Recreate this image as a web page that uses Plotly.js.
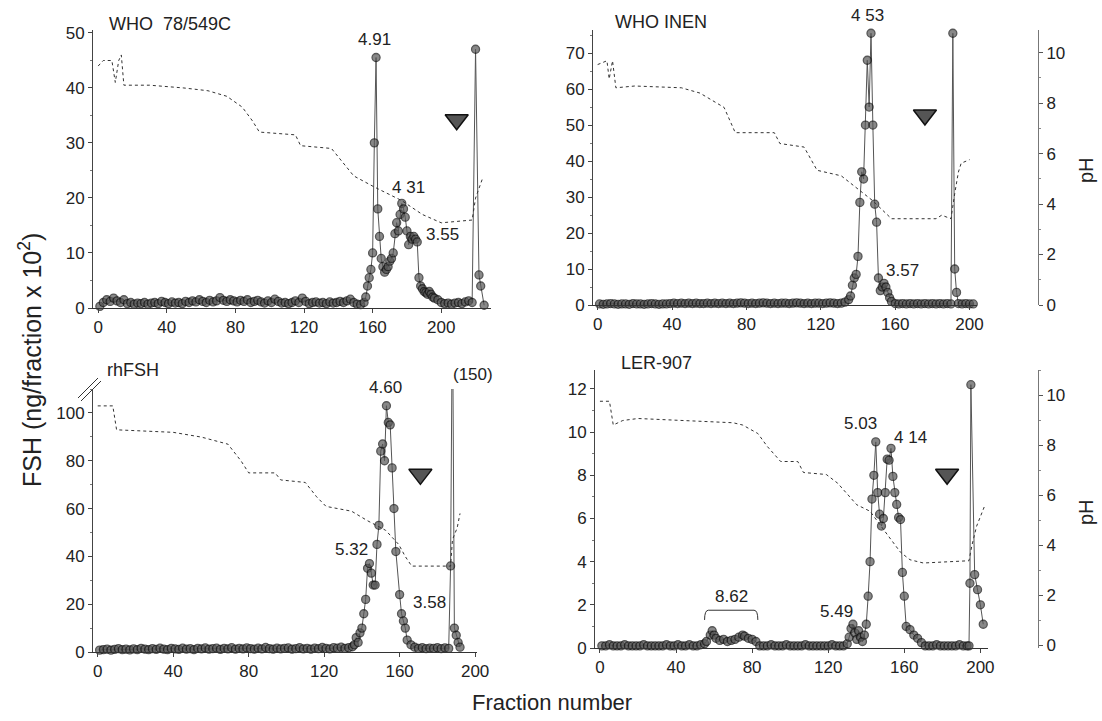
<!DOCTYPE html>
<html><head><meta charset="utf-8">
<script src="https://cdn.plot.ly/plotly-3.0.1.min.js"></script>
<style>html,body{margin:0;padding:0;background:#fff}#chart{width:1102px;height:721px}</style>
</head><body><div id="chart"></div><script>
// ---------- DATA ----------
// Panel 1: WHO 78/549C
const fr1 = [1,3,5,7,9,11,13,15,17,19,21,23,25,27,29,31,33,35,37,39,41,43,45,47,49,51,53,55,57,59,61,63,65,67,69,71,73,75,77,79,81,83,85,87,89,91,93,95,97,99,101,103,105,107,109,111,113,115,117,119,121,123,125,127,129,131,133,135,137,139,141,143,145,147,149,151,153,155,156,157,158,159,160,161,162,163,164,165,166,167,168,169,170,171,172,173,174,175,176,177,178,179,180,181,182,183,184,185,186,187,188,189,190,191,192,193,194,195,196,198,200,202,204,206,208,210,212,214,216,218,220,222,223,225];
const fsh1 = [0.3,1.0,1.5,1.2,1.8,1.3,1.0,1.5,0.8,1.0,0.7,0.9,0.8,1.0,0.7,0.9,1.0,0.8,1.2,1.0,0.8,1.1,0.9,1.0,0.8,1.2,1.0,1.3,1.1,1.5,1.2,1.0,1.4,1.1,1.3,1.9,1.4,1.2,1.5,1.3,1.1,1.4,1.2,1.5,1.0,1.2,1.4,1.1,0.9,1.3,1.0,1.6,1.2,0.9,1.0,0.8,1.0,1.3,1.0,1.8,1.2,0.8,1.0,1.1,0.9,1.0,0.8,1.1,0.9,1.0,1.2,1.0,1.3,1.6,1.0,0.7,0.6,1.0,2.0,4.0,5.5,7.0,10.0,30.0,45.5,18.0,13.0,9.0,7.5,6.5,7.0,7.5,8.5,9.0,10.0,13.5,15.5,14.0,17.0,19.0,18.0,16.5,14.0,11.5,13.0,12.5,13.0,12.5,12.0,5.5,4.0,3.5,3.0,2.8,2.5,3.0,2.5,2.0,1.8,1.5,1.0,0.8,0.9,0.7,0.9,1.0,0.8,1.1,1.3,1.0,47.0,6.0,4.0,0.5];
const phFr1 = [0,3,8,10,12,13.5,15,30,50,64,75,84,90,94,115,118,136,149,161,177,189,200,218,220,224];
const ph1 = [9.6,9.82,9.82,8.95,9.82,10.04,8.84,8.84,8.73,8.62,8.4,7.97,7.42,6.98,6.87,6.44,6.33,5.24,4.8,4.26,3.71,3.38,3.49,4.36,5.13];

// Panel 2: WHO INEN
const fr2 = [1,3,5,7,9,11,13,15,17,19,21,23,25,27,29,31,33,35,37,39,41,43,45,47,49,51,53,55,57,59,61,63,65,67,69,71,73,75,77,79,81,83,85,87,89,91,93,95,97,99,101,103,105,107,109,111,113,115,117,119,121,123,125,127,129,131,133,135,136,137,138,139,140,141,142,143,144,145,146,147,148,149,150,151,152,153,154,155,156,157,158,160,162,164,166,168,170,172,174,176,178,180,182,184,186,188,190,191,192,193,194,196,198,200,202];
const fsh2 = [0.3,0.2,0.3,0.4,0.3,0.2,0.3,0.3,0.2,0.4,0.3,0.3,0.2,0.3,0.4,0.3,0.2,0.3,0.3,0.4,0.5,0.4,0.5,0.4,0.5,0.4,0.5,0.4,0.4,0.5,0.4,0.5,0.4,0.5,0.4,0.5,0.4,0.5,0.6,0.5,0.4,0.5,0.4,0.5,0.6,0.5,0.4,0.5,0.4,0.5,0.5,0.4,0.5,0.6,0.5,0.4,0.5,0.4,0.5,0.5,0.4,0.5,0.6,0.5,0.4,0.5,0.8,1.5,2.5,5.5,7.5,8.5,13.5,28.5,37.0,35.0,50.0,68.0,55.0,75.5,50.0,28.0,23.0,7.5,4.0,5.0,6.0,5.0,3.5,2.0,1.0,0.4,0.3,0.4,0.3,0.4,0.3,0.4,0.3,0.4,0.3,0.4,0.3,0.4,0.3,0.4,0.3,75.5,10.0,3.5,0.4,0.3,0.4,0.3,0.3];
const phFr2 = [0,5,6.2,8,9.8,20,45,55,68,74,95,98,111,118,131,138,148,158,182,185,190,192,194,195.5,200];
const ph2 = [9.53,9.68,8.96,9.68,8.61,8.68,8.61,8.4,7.83,6.83,6.83,6.4,6.26,5.34,5.12,4.7,4.13,3.42,3.42,3.56,3.42,4.41,5.27,5.62,5.76];

// Panel 3: rhFSH
const fr3 = [1,3,5,7,9,11,13,15,17,19,21,23,25,27,29,31,33,35,37,39,41,43,45,47,49,51,53,55,57,59,61,63,65,67,69,71,73,75,77,79,81,83,85,87,89,91,93,95,97,99,101,103,105,107,109,111,113,115,117,119,121,123,125,127,129,131,133,135,136,137,138,139,140,141,142,143,144,145,146,147,148,149,150,151,152,153,154,155,156,157,158,160,161,162,163,164,166,168,170,172,174,176,178,180,182,184,186,187,188,189,190,191,192];
const fsh3 = [0.8,1.0,1.2,0.8,1.1,1.4,1.0,1.2,0.9,1.3,1.0,1.5,1.2,1.0,1.4,1.1,1.6,1.2,1.0,1.5,1.3,1.1,1.6,1.2,1.4,1.0,1.5,1.3,1.7,1.2,1.4,1.6,1.1,1.5,1.3,1.8,1.2,1.5,1.3,1.7,1.4,1.2,1.6,1.3,1.9,1.4,1.2,1.6,1.3,1.5,1.7,1.2,1.4,1.8,1.3,1.5,1.2,1.6,1.4,1.9,1.5,1.3,1.8,1.6,2.0,1.5,1.8,2.2,3.0,6.0,4.0,8.0,10.0,16.0,22.0,35.0,37.0,33.0,28.0,28.0,45.0,53.0,84.0,87.0,80.0,103.0,96.0,95.0,77.0,60.0,42.0,24.0,16.0,13.0,10.0,5.0,3.0,2.0,1.5,1.8,1.4,1.6,1.5,1.8,1.4,1.7,1.5,36.0,150.0,10.0,7.0,4.0,2.0];
const phFr3 = [0,8,10,40,55,69,76,80,94,97,110,116,121,134.5,143,152.6,159.5,163,166.4,187,188,190.5,192];
const ph3 = [9.77,9.77,8.82,8.72,8.53,8.25,7.58,7.11,7.11,6.83,6.73,6.16,5.78,5.59,5.21,4.83,4.27,3.79,3.41,3.41,4.46,4.93,5.5];

// Panel 4: LER-907
const fr4 = [1,3,5,7,9,11,13,15,17,19,21,23,25,27,29,31,33,35,37,39,41,43,45,47,49,51,53,55,56,58,59,60,61,63,65,67,69,71,73,75,76,78,80,82,84,86,88,90,92,94,96,98,100,102,104,106,108,110,112,114,116,118,120,122,124,126,128,130,131,132,133,134,135,136,137,138,139,140,141,142,143,144,145,146,147,148,149,150,151,152,153,154,155,156,157,158,159,160,161,163,165,167,169,171,173,175,177,179,181,183,185,187,189,191,193,194,194.5,195,197,198.5,200,201.5];
const fsh4 = [0.1,0.1,0.15,0.1,0.1,0.1,0.15,0.1,0.1,0.1,0.1,0.15,0.1,0.1,0.1,0.1,0.1,0.15,0.1,0.1,0.15,0.1,0.1,0.15,0.1,0.1,0.15,0.2,0.3,0.6,0.8,0.6,0.45,0.35,0.4,0.3,0.35,0.4,0.5,0.6,0.55,0.45,0.4,0.3,0.1,0.1,0.1,0.15,0.1,0.1,0.1,0.15,0.1,0.1,0.1,0.1,0.15,0.1,0.1,0.1,0.1,0.1,0.1,0.15,0.1,0.1,0.1,0.2,0.5,0.9,1.1,0.7,0.4,0.8,0.5,0.3,0.6,1.1,2.4,4.0,6.9,8.0,9.55,7.2,6.2,5.65,6.0,7.2,8.75,8.7,9.25,7.95,7.2,6.65,6.05,5.95,3.5,2.4,1.0,0.85,0.6,0.45,0.25,0.1,0.1,0.1,0.15,0.1,0.1,0.1,0.1,0.1,0.15,0.1,0.1,0.1,3.0,12.2,3.4,2.7,2.0,1.1];
const phFr4 = [0,5,7,12,20,40,70,75,83,88,95,104,107,119,125,135,142,152,158,163,170,194,195.5,198,202];
const ph4 = [9.75,9.75,8.8,8.98,9.06,8.98,8.89,8.8,8.46,7.94,7.34,7.34,6.9,6.82,6.47,5.61,5.35,4.32,3.71,3.41,3.28,3.37,3.97,4.75,5.52];

// Application-point triangles (fraction, FSH) per panel
const triFr = [209, 176, 171, 182.5];
const triFSH = [34.2, 52.8, 74.3, 8.05];

const panelNames = ['WHO  78/549C', 'WHO INEN', 'rhFSH', 'LER-907'];
const xTicks = [0, 40, 80, 120, 160, 200];
const phTicks = [0, 2, 4, 6, 8, 10];

// ---------- LAYOUT GEOMETRY ----------
const W = 1102, H = 721;
const FONT = 'Liberation Sans, Arial, Helvetica, sans-serif';
const px = (a, b) => [a / W, b / W];
const py = (top, bot) => [1 - bot / H, 1 - top / H];

const panels = [
  {fr: fr1, fsh: fsh1, phFr: phFr1, ph: ph1, xpx: [93, 491], xr: [-3, 229], ypx: [30, 308], yr: [0, 50.5], dt: 10, mdt: 5, phr: [0, 11.03], phAxis: false},
  {fr: fr2, fsh: fsh2, phFr: phFr2, ph: ph2, xpx: [593, 977], xr: [-2.5, 204], ypx: [30, 305], yr: [0, 76.4], dt: 10, mdt: 5, phr: [0, 10.9], phAxis: true, phPos: 1038},
  {fr: fr3, fsh: fsh3, phFr: phFr3, ph: ph3, xpx: [93, 477], xr: [-2.5, 201], ypx: [389, 652], yr: [0, 110], dt: 20, mdt: 10, phr: [0, 10.44], phAxis: false},
  {fr: fr4, fsh: fsh4, phFr: phFr4, ph: ph4, xpx: [595, 988], xr: [-2.6, 204], ypx: [370, 648], yr: [0, 12.88], dt: 2, mdt: 1, phr: [-0.12, 11.0], phAxis: true, phPos: 1038}
];

// data coordinates of a panel -> paper fractions (for texts placed outside the axis ranges)
function toPaper(p, x, y) {
  const fx = (x - p.xr[0]) / (p.xr[1] - p.xr[0]);
  const fy = (y - p.yr[0]) / (p.yr[1] - p.yr[0]);
  return [(p.xpx[0] + fx * (p.xpx[1] - p.xpx[0])) / W, 1 - (p.ypx[1] - fy * (p.ypx[1] - p.ypx[0])) / H];
}

const traces = [];
const layout = {
  width: W, height: H,
  margin: {l: 0, r: 0, t: 0, b: 0},
  paper_bgcolor: '#fff', plot_bgcolor: 'rgba(0,0,0,0)',
  showlegend: false,
  font: {family: FONT, size: 17, color: '#222'},
  annotations: [], shapes: []
};

panels.forEach((p, i) => {
  const n = i + 1;
  const xa = 'x' + (n === 1 ? '' : n), ya = 'y' + (n === 1 ? '' : n), pa = 'y' + (n + 4);
  const xKey = 'xaxis' + (n === 1 ? '' : n), yKey = 'yaxis' + (n === 1 ? '' : n), pKey = 'yaxis' + (n + 4);
  layout[xKey] = {
    domain: px(p.xpx[0], p.xpx[1]), anchor: ya, range: p.xr,
    tickvals: xTicks, ticks: 'outside', ticklen: 4, tickcolor: '#444',
    showline: true, linecolor: '#333', linewidth: 1, showgrid: false, zeroline: false,
    tickfont: {family: FONT, size: 17, color: '#222'}
  };
  layout[yKey] = {
    domain: py(p.ypx[0], p.ypx[1]), anchor: xa, range: p.yr, dtick: p.dt, tick0: 0,
    ticks: 'outside', ticklen: 4, tickcolor: '#444',
    minor: {dtick: p.mdt, ticks: 'outside', ticklen: 2, tickcolor: '#777'},
    showline: true, linecolor: '#444', linewidth: 1, showgrid: false, zeroline: false,
    tickfont: {family: FONT, size: 17, color: '#222'}
  };
  layout[pKey] = {
    overlaying: ya, range: p.phr, showgrid: false, zeroline: false,
    visible: p.phAxis, side: 'right', anchor: 'free', position: (p.phPos || 1000) / W,
    tickvals: phTicks, ticks: 'outside', ticklen: 4, tickcolor: '#555',
    minor: {dtick: 1, ticks: 'outside', ticklen: 2, tickcolor: '#888'},
    showline: true, linecolor: '#777', linewidth: 1,
    tickfont: {family: FONT, size: 17, color: '#222'}
  };
  // FSH profile
  const sizes = p.fsh.map(v => (v > p.yr[1] ? 0 : 8));
  traces.push({
    type: 'scatter', mode: 'lines+markers', x: p.fr, y: p.fsh, xaxis: xa, yaxis: ya,
    cliponaxis: false,
    line: {color: '#555', width: 1},
    marker: {symbol: 'circle', size: sizes, color: '#575757', line: {color: '#111', width: 1.3}},
    hoverinfo: 'x+y'
  });
  // pH gradient
  traces.push({
    type: 'scatter', mode: 'lines', x: p.phFr, y: p.ph, xaxis: xa, yaxis: pa,
    line: {color: '#333', width: 1, dash: '3px,3px'}, hoverinfo: 'skip'
  });
  // application triangle
  traces.push({
    type: 'scatter', mode: 'markers', x: [triFr[i]], y: [triFSH[i]], xaxis: xa, yaxis: ya,
    cliponaxis: false,
    marker: {symbol: 'triangle-down', size: 20, color: '#555', line: {color: '#111', width: 1.5}},
    hoverinfo: 'skip'
  });
});

// ---------- TEXT ----------
function label(pi, x, y, text, opts) {
  const [xp, yp] = toPaper(panels[pi], x, y);
  return Object.assign({
    xref: 'paper', yref: 'paper', x: xp, y: yp, text, showarrow: false,
    xanchor: 'center', yanchor: 'middle',
    font: {family: FONT, size: 17, color: '#222'}
  }, opts || {});
}
const paperText = (xpx, ypx, text, opts) => Object.assign({
  xref: 'paper', yref: 'paper', x: xpx / W, y: 1 - ypx / H, text, showarrow: false,
  xanchor: 'center', yanchor: 'middle', font: {family: FONT, size: 22, color: '#222'}
}, opts || {});
const titleFont = {family: FONT, size: 18, color: '#222'};

layout.annotations.push(
  label(0, 5, 51.6, panelNames[0], {xanchor: 'left', font: titleFont}),
  label(0, 161, 48.8, '4.91'),
  label(0, 181, 21.8, '4 31'),
  label(0, 201, 13.3, '3.55'),

  label(1, 8, 78.5, panelNames[1], {xanchor: 'left', font: titleFont}),
  label(1, 145, 80.5, '4 53'),
  label(1, 164, 9.5, '3.57'),

  label(2, 4, 118, panelNames[2], {xanchor: 'left', font: titleFont}),
  label(2, 152.6, 110.6, '4.60'),
  label(2, 134.5, 43, '5.32'),
  label(2, 176, 20.8, '3.58'),
  label(2, 199, 116, '(150)'),

  label(3, 10, 13.2, panelNames[3], {xanchor: 'left', font: titleFont}),
  label(3, 137, 10.4, '5.03'),
  label(3, 163, 9.75, '4 14'),
  label(3, 124.6, 1.7, '5.49'),
  label(3, 69, 2.4, '8.62'),

  paperText(30, 360, 'FSH (ng/fraction x 10<sup>2</sup>)', {textangle: -90, font: {family: FONT, size: 25, color: '#222'}}),
  paperText(552, 702, 'Fraction number'),
  paperText(1086, 170, 'pH', {textangle: -90, font: {family: FONT, size: 20, color: '#222'}}),
  paperText(1086, 512, 'pH', {textangle: -90, font: {family: FONT, size: 20, color: '#222'}})
);

// bracket over the 8.62 region and axis-break marks
layout.shapes.push(
  {type: 'path', xref: 'x4', yref: 'y4', path: 'M 55,1.3 Q 55,1.75 57,1.75 L 81,1.75 Q 83,1.75 83,1.3', line: {color: '#333', width: 1}},
  {type: 'line', xref: 'paper', yref: 'paper', x0: 78 / W, y0: 1 - 398 / H, x1: 98 / W, y1: 1 - 378 / H, line: {color: '#333', width: 1}},
  {type: 'line', xref: 'paper', yref: 'paper', x0: 81 / W, y0: 1 - 401 / H, x1: 101 / W, y1: 1 - 381 / H, line: {color: '#333', width: 1}}
);

Plotly.newPlot('chart', traces, layout, {staticPlot: true, displayModeBar: false});
</script></body></html>
